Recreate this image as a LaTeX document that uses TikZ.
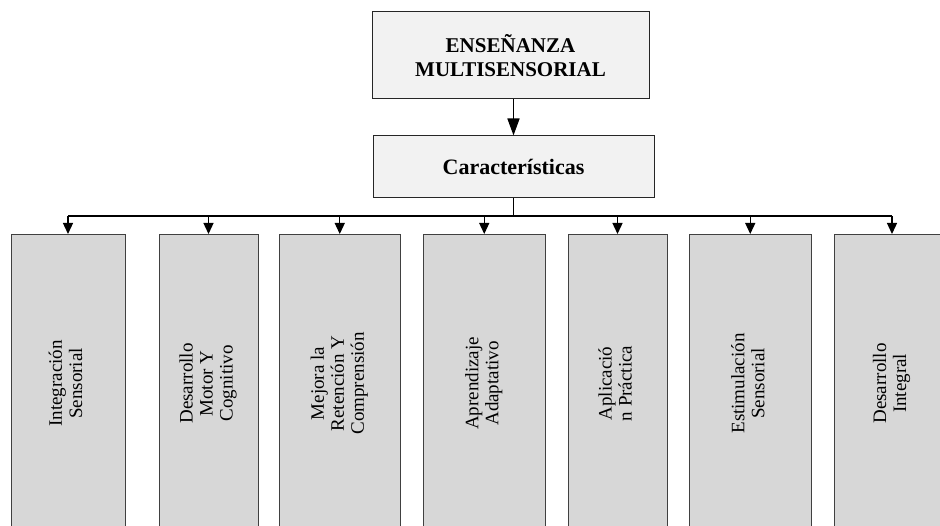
\documentclass[tikz,border=0pt]{standalone}
\usepackage{fontspec}
\setmainfont{Liberation Serif}
\usepackage{graphicx}
\usetikzlibrary{arrows.meta}
\tikzset{>={Triangle[length=11pt,width=10pt]}}
\definecolor{boxgray}{HTML}{F2F2F2}
\definecolor{colgray}{HTML}{D7D7D7}
\tikzset{
  headbox/.style={draw=black!85, fill=boxgray, line width=1pt, inner sep=0pt, align=center},
  colbox/.style={draw=black!75, fill=colgray, line width=0.9pt, inner sep=0pt, minimum height=298pt, anchor=north},
}
\newcommand{\coltext}[1]{\rotatebox{90}{\fontsize{19}{20}\selectfont\begin{tabular}{@{}c@{}}#1\end{tabular}}}

\begin{document}
\begin{tikzpicture}[x=1pt, y=-1pt]
  \useasboundingbox (0,0) rectangle (940,526);
  \clip (0,0) rectangle (940,526);
  % heads
  \node[headbox, minimum width=277pt, minimum height=87pt, font=\bfseries\fontsize{21}{24}\selectfont] (ens) at (510.5,55.5) {ENSEÑANZA\\MULTISENSORIAL};
  \node[headbox, minimum width=281pt, minimum height=62pt, font=\bfseries\fontsize{22}{24}\selectfont] (car) at (513.5,167) {Características};
  % columns
  \foreach \name/\cx/\w/\txt in {
      c1/68/114/{Integración\\Sensorial},
      c2/208.5/99/{Desarrollo\\Motor Y\\Cognitivo},
      c3/339.75/121.5/{Mejora la\\Retención Y\\Comprensión},
      c4/484.25/122.5/{Aprendizaje\\Adaptativo},
      c5/617.5/99/{Aplicació\\n Práctica},
      c6/750.25/121.5/{Estimulación\\Sensorial},
      c7/892/115/{Desarrollo\\Integral}}
    \node[colbox, minimum width=\w pt] (\name) at (\cx,234) {\coltext{\txt}};
  % lines
  \coordinate (bus) at (513.5,216);
  \draw[line width=1.6pt, -{Triangle[length=17pt,width=12pt]}] (car.north |- ens.south) -- (car.north);
  \draw[line width=1.8pt] (car.south) -- (bus);
  \draw[line width=1.3pt] (c1.north |- bus) -- (c7.north |- bus);
  \foreach \name in {c1,c2,c3,c4,c5,c6,c7}
    \draw[line width=1.3pt, ->] (\name.north |- bus) -- (\name.north);
\end{tikzpicture}
\end{document}
